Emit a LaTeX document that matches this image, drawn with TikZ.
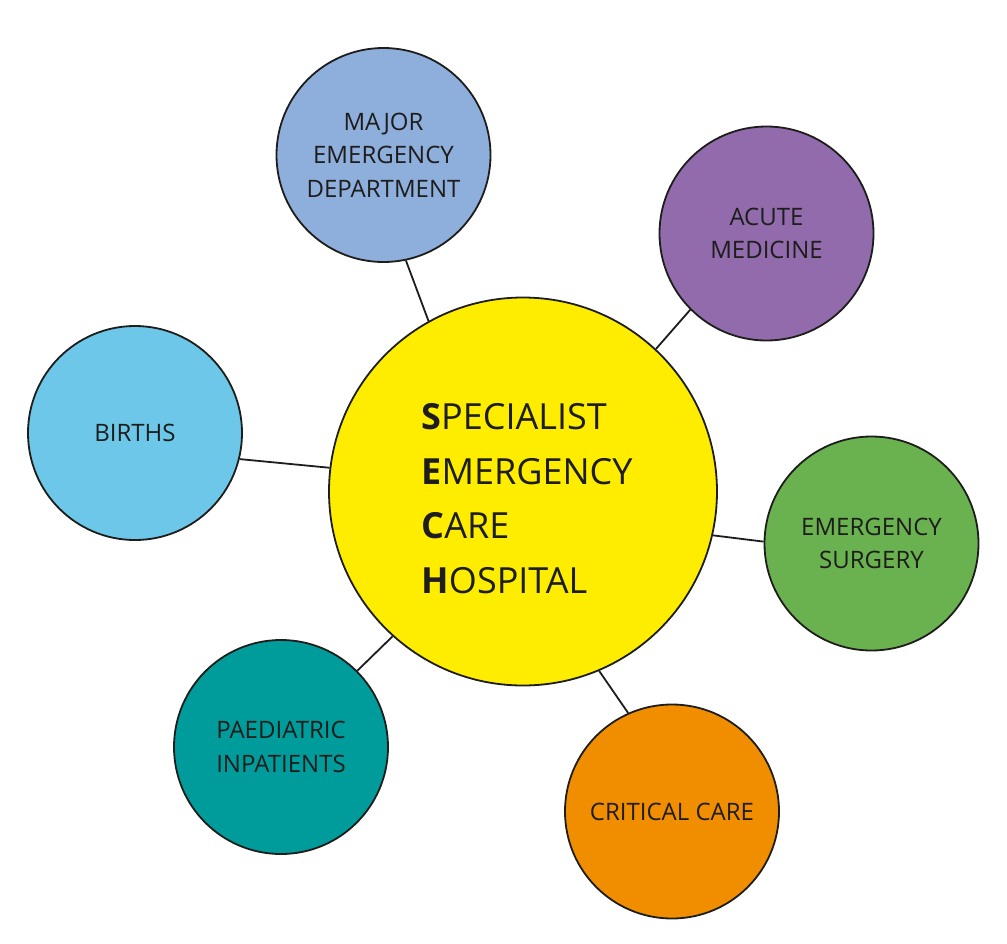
\documentclass[tikz,border=0pt]{standalone}
\usepackage{fontspec}
\setmainfont{Open Sans}
\usepackage{xcolor}
\usetikzlibrary{positioning}
\definecolor{inkline}{RGB}{29,29,27}
\definecolor{hubyellow}{RGB}{255,237,0}
\definecolor{medblue}{RGB}{142,174,220}
\definecolor{acutepurple}{RGB}{145,107,172}
\definecolor{birthsblue}{RGB}{108,199,232}
\definecolor{surggreen}{RGB}{106,177,80}
\definecolor{paedteal}{RGB}{0,156,155}
\definecolor{critorange}{RGB}{241,142,0}
\tikzset{
  hubcircle/.style={circle, draw=inkline, line width=1.8pt, fill=hubyellow,
    minimum size=388pt, inner sep=0pt},
  hubtext/.style={inner sep=0pt, align=left, text=inkline,
    font=\fontsize{36}{54.5}\selectfont},
  unit/.style={circle, draw=inkline, line width=1.8pt,
    minimum size=214pt, inner sep=0pt, align=center, text=inkline,
    font=\fontsize{24}{33.5}\selectfont},
  link/.style={draw=inkline, line width=1.8pt},
}

\begin{document}
\begin{tikzpicture}[x=1pt, y=-1pt]
  \useasboundingbox (0,0) rectangle (1007,943);
  \node[hubcircle] (hub) at (523,491.5) {};
  \node[hubtext] (title) at ([xshift=4pt,yshift=-7pt]hub.center)
    {\textbf{S}PECIALIST\\\textbf{E}MERGENCY\\\textbf{C}ARE\\\textbf{H}OSPITAL};

  \node[unit, fill=medblue] (med) at (383.5,155) {MAJOR\\EMERGENCY\\DEPARTMENT};
  \node[unit, fill=acutepurple] (acute) at (766.5,233.5) {ACUTE\\MEDICINE};
  \node[unit, fill=birthsblue] (births) at (135,433) {BIRTHS};
  \node[unit, fill=surggreen] (surg) at (871.5,543.5) {EMERGENCY\\SURGERY};
  \node[unit, fill=paedteal] (paed) at (281,747) {PAEDIATRIC\\INPATIENTS};
  \node[unit, fill=critorange] (crit) at (672,811.5) {CRITICAL CARE};

  \draw[link] (med.-78) -- (hub.119);
  \draw[link] (acute.-135) -- (hub.47.4);
  \draw[link] (births.-14) -- (hub.173);
  \draw[link] (surg.179.6) -- (hub.-13.5);
  \draw[link] (paed.45) -- (hub.228);
  \draw[link] (crit.114.6) -- (hub.-67);
\end{tikzpicture}
\end{document}
